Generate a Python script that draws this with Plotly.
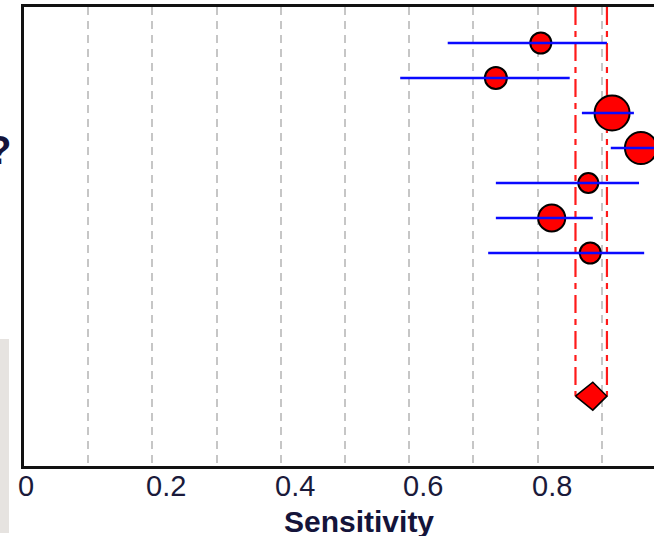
import plotly.graph_objects as go

# ---- data ----
studies = ["Study 1", "Study 2", "Study 3", "Study 4", "Study 5", "Study 6", "Study 7"]
sensitivity = [0.805, 0.735, 0.916, 0.961, 0.879, 0.822, 0.882]
ci_lower = [0.660, 0.586, 0.869, 0.914, 0.735, 0.735, 0.723]
ci_upper = [0.908, 0.850, 0.950, 0.990, 0.958, 0.886, 0.966]
weights = [9.3, 10.2, 25.8, 21.6, 8.4, 15.4, 9.3]  # percent weight (marker area)

pooled_sens = 0.886
pooled_lower = 0.859
pooled_upper = 0.908

tick_values = [0, 0.2, 0.4, 0.6, 0.8]
tick_labels = ["0", "0.2", "0.4", "0.6", "0.8"]
axis_title = "Sensitivity"

# ---- layout geometry ----
W, H = 654, 536
L, T, B, R = 24, 7, 70, 0
plot_h = H - T - B
rows = list(range(1, len(studies) + 1))
pooled_row = 11.09
x_max = (W - L) / 642.0
y_top = 1 - 36 / 35.0
y_bot = y_top + plot_h / 35.0

def py_to_paper(py):
    return (H - B - py) / plot_h

fig = go.Figure()

# pooled CI vertical lines (dash-dot red)
for xv in (pooled_lower, pooled_upper):
    fig.add_trace(go.Scatter(x=[xv, xv], y=[y_top, pooled_row], mode="lines",
                             line=dict(color="#ff1a1a", width=2.2, dash="18px,6px,6px,6px"),
                             hoverinfo="skip", showlegend=False))

# study markers
sizes = [6.9 * (w ** 0.5) for w in weights]
fig.add_trace(go.Scatter(x=sensitivity, y=rows, mode="markers", opacity=1,
                         marker=dict(size=sizes, color="#ff0000", opacity=1,
                                     line=dict(color="#000000", width=2)),
                         text=studies, showlegend=False))

# CI lines drawn over markers
cx, cy = [], []
for lo, hi, r in zip(ci_lower, ci_upper, rows):
    cx += [lo, hi, None]
    cy += [r, r, None]
fig.add_trace(go.Scatter(x=cx, y=cy, mode="lines",
                         line=dict(color="#0a0aff", width=2.6),
                         hoverinfo="skip", showlegend=False))

# pooled diamond
h = 0.4
fig.add_trace(go.Scatter(x=[pooled_lower, pooled_sens, pooled_upper, pooled_sens, pooled_lower],
                         y=[pooled_row, pooled_row - h, pooled_row, pooled_row + h, pooled_row],
                         mode="lines", fill="toself", fillcolor="#ff0000",
                         line=dict(color="#000000", width=1.5),
                         hoverinfo="skip", showlegend=False))

annotations = []
for v, t in zip(tick_values, tick_labels):
    annotations.append(dict(x=v, xref="x", y=py_to_paper(486), yref="paper",
                            text=t, showarrow=False, xanchor="left", yanchor="middle",
                            xshift=-8,
                            font=dict(family="Liberation Sans, Arial", size=29, color="#1a1a3a")))
annotations.append(dict(x=(359 - L) / (W - L - R), xref="paper", y=py_to_paper(521), yref="paper",
                        text="<b>" + axis_title + "</b>", showarrow=False,
                        xanchor="center", yanchor="middle",
                        font=dict(family="Liberation Sans, Arial", size=30, color="#14143a")))
annotations.append(dict(x=0, xref="paper", y=py_to_paper(150), yref="paper",
                        text="<b>?</b>", showarrow=False, xanchor="right", yanchor="middle",
                        xshift=-11,
                        font=dict(family="Liberation Sans, Arial", size=40, color="#14143a")))

fig.update_layout(
    width=W, height=H,
    margin=dict(l=L, r=R, t=T, b=B, pad=0),
    paper_bgcolor="white", plot_bgcolor="white",
    xaxis=dict(range=[0, x_max], tick0=0, dtick=0.1, showticklabels=False, ticks="",
               showgrid=True, gridcolor="#c6c6c6", gridwidth=2, griddash="8px,6px",
               zeroline=False, showline=True, linecolor="#111111", linewidth=2.5, mirror=True),
    yaxis=dict(range=[y_bot, y_top], showticklabels=False, ticks="", showgrid=False,
               zeroline=False, showline=True, linecolor="#111111", linewidth=2.5, mirror=False),
    annotations=annotations,
    shapes=[dict(type="rect", xref="paper", yref="paper",
                 x0=-L / (W - L), x1=(9 - L) / (W - L),
                 y0=py_to_paper(533), y1=py_to_paper(339),
                 fillcolor="#e6e3e0", line=dict(width=0), layer="below")],
    showlegend=False,
)

fig.write_html("out.html")
